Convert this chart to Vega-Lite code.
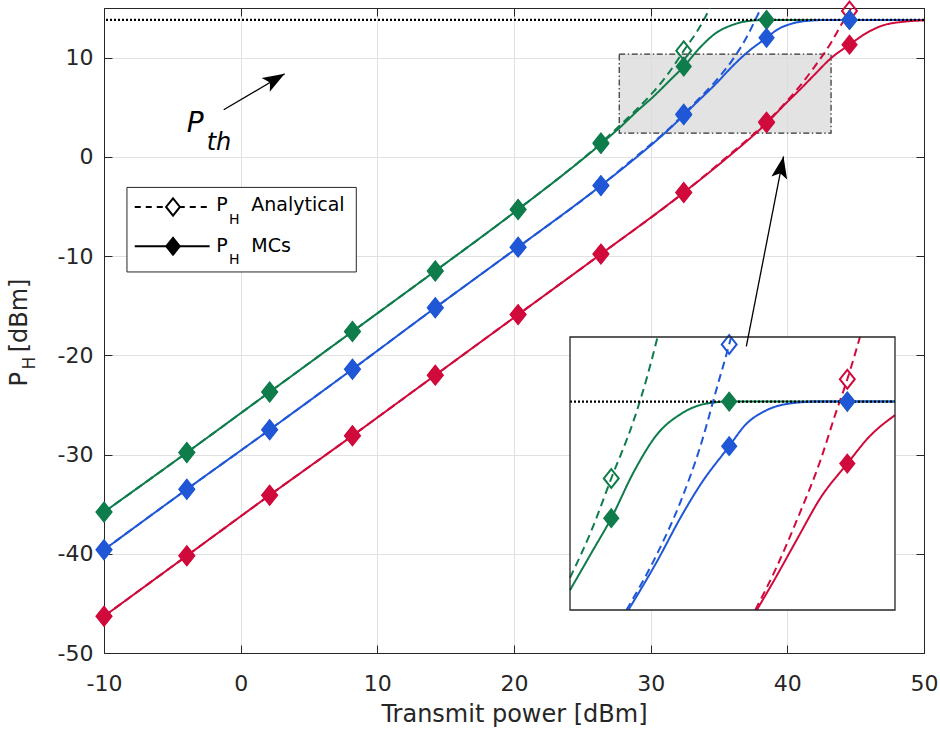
{
  "$schema": "https://vega.github.io/schema/vega-lite/v6.json",
  "width": 820,
  "height": 645,
  "autosize": {"type": "none"},
  "padding": {"left": 104, "top": 8, "right": 16, "bottom": 77},
  "background": "white",
  "config": {
    "font": "DejaVu Sans",
    "view": {"stroke": "#262626", "strokeWidth": 1},
    "axis": {
      "labelFont": "DejaVu Sans",
      "labelFontSize": 22,
      "labelColor": "#262626",
      "titleFont": "DejaVu Sans",
      "titleFontSize": 24,
      "titleFontWeight": "normal",
      "titleColor": "#262626",
      "domainColor": "#262626",
      "tickColor": "#262626",
      "gridColor": "#e1e1e1",
      "labelFlush": false,
      "labelOverlap": false
    }
  },
  "data": {"values": [{}]},
  "datasets": {
    "curves": [
      {"case": "Case 1", "method": "MCs", "x": -10, "y": -35.8},
      {"case": "Case 1", "method": "MCs", "x": -3.94, "y": -29.8},
      {"case": "Case 1", "method": "MCs", "x": 2.12, "y": -23.7},
      {"case": "Case 1", "method": "MCs", "x": 8.18, "y": -17.6},
      {"case": "Case 1", "method": "MCs", "x": 14.24, "y": -11.5},
      {"case": "Case 1", "method": "MCs", "x": 20.3, "y": -5.3},
      {"case": "Case 1", "method": "MCs", "x": 26.36, "y": 1.3},
      {"case": "Case 1", "method": "MCs", "x": 27.7, "y": 2.9},
      {"case": "Case 1", "method": "MCs", "x": 29, "y": 4.6},
      {"case": "Case 1", "method": "MCs", "x": 30.3, "y": 6.2},
      {"case": "Case 1", "method": "MCs", "x": 31.4, "y": 7.7},
      {"case": "Case 1", "method": "MCs", "x": 32.42, "y": 9.1},
      {"case": "Case 1", "method": "MCs", "x": 33.6, "y": 11.0},
      {"case": "Case 1", "method": "MCs", "x": 34.8, "y": 12.5},
      {"case": "Case 1", "method": "MCs", "x": 36, "y": 13.3},
      {"case": "Case 1", "method": "MCs", "x": 37.2, "y": 13.7},
      {"case": "Case 1", "method": "MCs", "x": 38.48, "y": 13.8},
      {"case": "Case 1", "method": "MCs", "x": 44.55, "y": 13.8},
      {"case": "Case 1", "method": "MCs", "x": 47, "y": 13.8},
      {"case": "Case 1", "method": "MCs", "x": 50, "y": 13.8},

      {"case": "Case 1", "method": "Analytical", "x": -10, "y": -35.8},
      {"case": "Case 1", "method": "Analytical", "x": -3.94, "y": -29.8},
      {"case": "Case 1", "method": "Analytical", "x": 2.12, "y": -23.7},
      {"case": "Case 1", "method": "Analytical", "x": 8.18, "y": -17.6},
      {"case": "Case 1", "method": "Analytical", "x": 14.24, "y": -11.5},
      {"case": "Case 1", "method": "Analytical", "x": 20.3, "y": -5.3},
      {"case": "Case 1", "method": "Analytical", "x": 26.36, "y": 1.4},
      {"case": "Case 1", "method": "Analytical", "x": 27.7, "y": 3.1},
      {"case": "Case 1", "method": "Analytical", "x": 28.7, "y": 4.4},
      {"case": "Case 1", "method": "Analytical", "x": 29.9, "y": 6.1},
      {"case": "Case 1", "method": "Analytical", "x": 30.3, "y": 6.7},
      {"case": "Case 1", "method": "Analytical", "x": 31.4, "y": 8.6},
      {"case": "Case 1", "method": "Analytical", "x": 32.42, "y": 10.7},
      {"case": "Case 1", "method": "Analytical", "x": 33.6, "y": 13.1},
      {"case": "Case 1", "method": "Analytical", "x": 34.3, "y": 14.9},
      {"case": "Case 1", "method": "Analytical", "x": 34.8, "y": 16.4},
      {"case": "Case 1", "method": "Analytical", "x": 35.5, "y": 18.4},

      {"case": "Case 2", "method": "MCs", "x": -10, "y": -39.6},
      {"case": "Case 2", "method": "MCs", "x": -3.94, "y": -33.5},
      {"case": "Case 2", "method": "MCs", "x": 2.12, "y": -27.5},
      {"case": "Case 2", "method": "MCs", "x": 8.18, "y": -21.4},
      {"case": "Case 2", "method": "MCs", "x": 14.24, "y": -15.2},
      {"case": "Case 2", "method": "MCs", "x": 20.3, "y": -9.1},
      {"case": "Case 2", "method": "MCs", "x": 26.36, "y": -2.9},
      {"case": "Case 2", "method": "MCs", "x": 29, "y": 0},
      {"case": "Case 2", "method": "MCs", "x": 30.3, "y": 1.5},
      {"case": "Case 2", "method": "MCs", "x": 31.4, "y": 2.85},
      {"case": "Case 2", "method": "MCs", "x": 32.42, "y": 4.2},
      {"case": "Case 2", "method": "MCs", "x": 33.3, "y": 5.4},
      {"case": "Case 2", "method": "MCs", "x": 34.8, "y": 7.4},
      {"case": "Case 2", "method": "MCs", "x": 36, "y": 9.15},
      {"case": "Case 2", "method": "MCs", "x": 37, "y": 10.45},
      {"case": "Case 2", "method": "MCs", "x": 38.48, "y": 12.0},
      {"case": "Case 2", "method": "MCs", "x": 39.3, "y": 12.85},
      {"case": "Case 2", "method": "MCs", "x": 40.4, "y": 13.45},
      {"case": "Case 2", "method": "MCs", "x": 41.6, "y": 13.72},
      {"case": "Case 2", "method": "MCs", "x": 43, "y": 13.8},
      {"case": "Case 2", "method": "MCs", "x": 47, "y": 13.8},
      {"case": "Case 2", "method": "MCs", "x": 50, "y": 13.8},

      {"case": "Case 2", "method": "Analytical", "x": -10, "y": -39.6},
      {"case": "Case 2", "method": "Analytical", "x": -3.94, "y": -33.5},
      {"case": "Case 2", "method": "Analytical", "x": 2.12, "y": -27.5},
      {"case": "Case 2", "method": "Analytical", "x": 8.18, "y": -21.4},
      {"case": "Case 2", "method": "Analytical", "x": 14.24, "y": -15.2},
      {"case": "Case 2", "method": "Analytical", "x": 20.3, "y": -9.1},
      {"case": "Case 2", "method": "Analytical", "x": 26.36, "y": -2.9},
      {"case": "Case 2", "method": "Analytical", "x": 29, "y": 0.1},
      {"case": "Case 2", "method": "Analytical", "x": 30.3, "y": 1.6},
      {"case": "Case 2", "method": "Analytical", "x": 31.4, "y": 2.9},
      {"case": "Case 2", "method": "Analytical", "x": 32.42, "y": 4.3},
      {"case": "Case 2", "method": "Analytical", "x": 33.2, "y": 5.4},
      {"case": "Case 2", "method": "Analytical", "x": 34.8, "y": 7.7},
      {"case": "Case 2", "method": "Analytical", "x": 36, "y": 9.8},
      {"case": "Case 2", "method": "Analytical", "x": 37, "y": 12.0},
      {"case": "Case 2", "method": "Analytical", "x": 37.9, "y": 14.5},
      {"case": "Case 2", "method": "Analytical", "x": 38.48, "y": 16.1},
      {"case": "Case 2", "method": "Analytical", "x": 38.58, "y": 16.4},
      {"case": "Case 2", "method": "Analytical", "x": 39.2, "y": 18.2},

      {"case": "Case 3", "method": "MCs", "x": -10, "y": -46.3},
      {"case": "Case 3", "method": "MCs", "x": -3.94, "y": -40.2},
      {"case": "Case 3", "method": "MCs", "x": 2.12, "y": -34.1},
      {"case": "Case 3", "method": "MCs", "x": 8.18, "y": -28.1},
      {"case": "Case 3", "method": "MCs", "x": 14.24, "y": -22.0},
      {"case": "Case 3", "method": "MCs", "x": 20.3, "y": -15.9},
      {"case": "Case 3", "method": "MCs", "x": 26.36, "y": -9.8},
      {"case": "Case 3", "method": "MCs", "x": 32.42, "y": -3.6},
      {"case": "Case 3", "method": "MCs", "x": 35.5, "y": -0.2},
      {"case": "Case 3", "method": "MCs", "x": 38.48, "y": 3.4},
      {"case": "Case 3", "method": "MCs", "x": 39.9, "y": 5.4},
      {"case": "Case 3", "method": "MCs", "x": 40.9, "y": 6.75},
      {"case": "Case 3", "method": "MCs", "x": 42, "y": 8.3},
      {"case": "Case 3", "method": "MCs", "x": 43.2, "y": 9.95},
      {"case": "Case 3", "method": "MCs", "x": 44.55, "y": 11.3},
      {"case": "Case 3", "method": "MCs", "x": 45.7, "y": 12.4},
      {"case": "Case 3", "method": "MCs", "x": 47, "y": 13.25},
      {"case": "Case 3", "method": "MCs", "x": 48.4, "y": 13.6},
      {"case": "Case 3", "method": "MCs", "x": 50, "y": 13.75},

      {"case": "Case 3", "method": "Analytical", "x": -10, "y": -46.3},
      {"case": "Case 3", "method": "Analytical", "x": -3.94, "y": -40.2},
      {"case": "Case 3", "method": "Analytical", "x": 2.12, "y": -34.1},
      {"case": "Case 3", "method": "Analytical", "x": 8.18, "y": -28.1},
      {"case": "Case 3", "method": "Analytical", "x": 14.24, "y": -22.0},
      {"case": "Case 3", "method": "Analytical", "x": 20.3, "y": -15.9},
      {"case": "Case 3", "method": "Analytical", "x": 26.36, "y": -9.8},
      {"case": "Case 3", "method": "Analytical", "x": 32.42, "y": -3.6},
      {"case": "Case 3", "method": "Analytical", "x": 35.5, "y": -0.1},
      {"case": "Case 3", "method": "Analytical", "x": 38.48, "y": 3.5},
      {"case": "Case 3", "method": "Analytical", "x": 39.82, "y": 5.4},
      {"case": "Case 3", "method": "Analytical", "x": 40.9, "y": 7.1},
      {"case": "Case 3", "method": "Analytical", "x": 42, "y": 9.1},
      {"case": "Case 3", "method": "Analytical", "x": 43.2, "y": 11.5},
      {"case": "Case 3", "method": "Analytical", "x": 43.94, "y": 13.3},
      {"case": "Case 3", "method": "Analytical", "x": 44.55, "y": 14.7},
      {"case": "Case 3", "method": "Analytical", "x": 45.2, "y": 16.4},
      {"case": "Case 3", "method": "Analytical", "x": 46, "y": 18.6}
    ],
    "points": [
      {"case": "Case 1", "method": "Analytical", "x": -10, "y": -35.8},
      {"case": "Case 1", "method": "Analytical", "x": -3.94, "y": -29.8},
      {"case": "Case 1", "method": "Analytical", "x": 2.12, "y": -23.7},
      {"case": "Case 1", "method": "Analytical", "x": 8.18, "y": -17.6},
      {"case": "Case 1", "method": "Analytical", "x": 14.24, "y": -11.5},
      {"case": "Case 1", "method": "Analytical", "x": 20.3, "y": -5.3},
      {"case": "Case 1", "method": "Analytical", "x": 26.36, "y": 1.4},
      {"case": "Case 1", "method": "Analytical", "x": 32.42, "y": 10.7},
      {"case": "Case 2", "method": "Analytical", "x": -10, "y": -39.6},
      {"case": "Case 2", "method": "Analytical", "x": -3.94, "y": -33.5},
      {"case": "Case 2", "method": "Analytical", "x": 2.12, "y": -27.5},
      {"case": "Case 2", "method": "Analytical", "x": 8.18, "y": -21.4},
      {"case": "Case 2", "method": "Analytical", "x": 14.24, "y": -15.2},
      {"case": "Case 2", "method": "Analytical", "x": 20.3, "y": -9.1},
      {"case": "Case 2", "method": "Analytical", "x": 26.36, "y": -2.9},
      {"case": "Case 2", "method": "Analytical", "x": 32.42, "y": 4.3},
      {"case": "Case 2", "method": "Analytical", "x": 38.48, "y": 16.1},
      {"case": "Case 3", "method": "Analytical", "x": -10, "y": -46.3},
      {"case": "Case 3", "method": "Analytical", "x": -3.94, "y": -40.2},
      {"case": "Case 3", "method": "Analytical", "x": 2.12, "y": -34.1},
      {"case": "Case 3", "method": "Analytical", "x": 8.18, "y": -28.1},
      {"case": "Case 3", "method": "Analytical", "x": 14.24, "y": -22.0},
      {"case": "Case 3", "method": "Analytical", "x": 20.3, "y": -15.9},
      {"case": "Case 3", "method": "Analytical", "x": 26.36, "y": -9.8},
      {"case": "Case 3", "method": "Analytical", "x": 32.42, "y": -3.6},
      {"case": "Case 3", "method": "Analytical", "x": 38.48, "y": 3.5},
      {"case": "Case 3", "method": "Analytical", "x": 44.55, "y": 14.7},

      {"case": "Case 1", "method": "MCs", "x": -10, "y": -35.8},
      {"case": "Case 1", "method": "MCs", "x": -3.94, "y": -29.8},
      {"case": "Case 1", "method": "MCs", "x": 2.12, "y": -23.7},
      {"case": "Case 1", "method": "MCs", "x": 8.18, "y": -17.6},
      {"case": "Case 1", "method": "MCs", "x": 14.24, "y": -11.5},
      {"case": "Case 1", "method": "MCs", "x": 20.3, "y": -5.3},
      {"case": "Case 1", "method": "MCs", "x": 26.36, "y": 1.3},
      {"case": "Case 1", "method": "MCs", "x": 32.42, "y": 9.1},
      {"case": "Case 1", "method": "MCs", "x": 38.48, "y": 13.8},
      {"case": "Case 1", "method": "MCs", "x": 44.55, "y": 13.8},
      {"case": "Case 2", "method": "MCs", "x": -10, "y": -39.6},
      {"case": "Case 2", "method": "MCs", "x": -3.94, "y": -33.5},
      {"case": "Case 2", "method": "MCs", "x": 2.12, "y": -27.5},
      {"case": "Case 2", "method": "MCs", "x": 8.18, "y": -21.4},
      {"case": "Case 2", "method": "MCs", "x": 14.24, "y": -15.2},
      {"case": "Case 2", "method": "MCs", "x": 20.3, "y": -9.1},
      {"case": "Case 2", "method": "MCs", "x": 26.36, "y": -2.9},
      {"case": "Case 2", "method": "MCs", "x": 32.42, "y": 4.2},
      {"case": "Case 2", "method": "MCs", "x": 38.48, "y": 12.0},
      {"case": "Case 2", "method": "MCs", "x": 44.55, "y": 13.8},
      {"case": "Case 3", "method": "MCs", "x": -10, "y": -46.3},
      {"case": "Case 3", "method": "MCs", "x": -3.94, "y": -40.2},
      {"case": "Case 3", "method": "MCs", "x": 2.12, "y": -34.1},
      {"case": "Case 3", "method": "MCs", "x": 8.18, "y": -28.1},
      {"case": "Case 3", "method": "MCs", "x": 14.24, "y": -22.0},
      {"case": "Case 3", "method": "MCs", "x": 20.3, "y": -15.9},
      {"case": "Case 3", "method": "MCs", "x": 26.36, "y": -9.8},
      {"case": "Case 3", "method": "MCs", "x": 32.42, "y": -3.6},
      {"case": "Case 3", "method": "MCs", "x": 38.48, "y": 3.4},
      {"case": "Case 3", "method": "MCs", "x": 44.55, "y": 11.3}
    ]
  },
  "resolve": {"scale": {"x": "independent", "y": "independent"}},
  "layer": [
    {
      "layer": [
        {
          "mark": {"type": "rect", "fill": "#dcdcdc", "fillOpacity": 0.8, "stroke": "#303030", "strokeWidth": 1.2, "strokeDash": [6, 2.5, 1.5, 2.5]},
          "encoding": {
            "x": {"datum": 27.7, "type": "quantitative"},
            "x2": {"datum": 43.2},
            "y": {"datum": 2.4, "type": "quantitative"},
            "y2": {"datum": 10.35}
          }
        },
        {
          "data": {"name": "curves"},
          "mark": {"type": "line", "clip": true, "strokeWidth": 2, "interpolate": "monotone"},
          "encoding": {
            "x": {
              "field": "x", "type": "quantitative",
              "scale": {"domain": [-10, 50], "nice": false, "zero": false},
              "axis": {"values": [-10, 0, 10, 20, 30, 40, 50], "grid": true, "tickSize": -8, "labelPadding": 28, "labelExpr": "'' + datum.value", "title": "Transmit power [dBm]", "titlePadding": 8}
            },
            "y": {
              "field": "y", "type": "quantitative",
              "scale": {"domain": [-50, 15], "nice": false, "zero": false},
              "axis": {"values": [-50, -40, -30, -20, -10, 0, 10], "grid": true, "tickSize": -8, "labelPadding": 19, "labelExpr": "'' + datum.value", "title": null}
            },
            "color": {"field": "case", "type": "nominal", "scale": {"domain": ["Case 1", "Case 2", "Case 3"], "range": ["#0E7C4B", "#1F57D6", "#D10A3C"]}, "legend": null},
            "strokeDash": {"field": "method", "type": "nominal", "scale": {"domain": ["Analytical", "MCs"], "range": [[8, 5], [1, 0]]}, "legend": null}
          }
        },
        {
          "mark": {"type": "rule", "color": "black", "strokeWidth": 2.2, "strokeDash": [2, 2]},
          "encoding": {"y": {"datum": 13.8, "type": "quantitative"}}
        },
        {
          "data": {"name": "points"},
          "transform": [{"filter": "datum.method == 'Analytical' && datum.y <= 15"}],
          "mark": {"type": "point", "shape": "M0,-1L0.8,0L0,1L-0.8,0Z", "size": 350, "filled": false, "strokeWidth": 2, "opacity": 1},
          "encoding": {
            "x": {"field": "x", "type": "quantitative"},
            "y": {"field": "y", "type": "quantitative"},
            "color": {"field": "case", "type": "nominal"}
          }
        },
        {
          "data": {"name": "points"},
          "transform": [{"filter": "datum.method == 'MCs' && datum.y <= 15"}],
          "mark": {"type": "point", "shape": "M0,-1L0.8,0L0,1L-0.8,0Z", "size": 430, "filled": true, "opacity": 1},
          "encoding": {
            "x": {"field": "x", "type": "quantitative"},
            "y": {"field": "y", "type": "quantitative"},
            "color": {"field": "case", "type": "nominal"}
          }
        },
        {
          "mark": {"type": "rule", "color": "black", "strokeWidth": 1.3},
          "encoding": {
            "x": {"datum": -1.24, "type": "quantitative"},
            "x2": {"datum": 3.22},
            "y": {"datum": 4.74, "type": "quantitative"},
            "y2": {"datum": 8.37}
          }
        },
        {
          "mark": {"type": "point", "shape": "M0,0L-0.8,2.2L0,1.7L0.8,2.2Z", "size": 400, "filled": true, "color": "black", "opacity": 1, "angle": 59.5},
          "encoding": {
            "x": {"datum": 3.22, "type": "quantitative"},
            "y": {"datum": 8.37, "type": "quantitative"}
          }
        },
        {
          "mark": {"type": "text", "text": "P", "fontSize": 28, "fontStyle": "italic", "align": "left", "baseline": "alphabetic", "color": "black"},
          "encoding": {"x": {"datum": -3.95, "type": "quantitative"}, "y": {"datum": 2.53, "type": "quantitative"}}
        },
        {
          "mark": {"type": "text", "text": "th", "fontSize": 24, "fontStyle": "italic", "align": "left", "baseline": "alphabetic", "color": "black"},
          "encoding": {"x": {"datum": -2.49, "type": "quantitative"}, "y": {"datum": 0.71, "type": "quantitative"}}
        },
        {
          "mark": {"type": "rect", "fill": "white", "stroke": "#262626", "strokeWidth": 1},
          "encoding": {
            "x": {"datum": -8.32, "type": "quantitative"},
            "x2": {"datum": 8.46},
            "y": {"datum": -3.08, "type": "quantitative"},
            "y2": {"datum": -11.6}
          }
        },
        {
          "mark": {"type": "rule", "color": "black", "strokeWidth": 2, "strokeDash": [6, 5]},
          "encoding": {
            "x": {"datum": -7.75, "type": "quantitative"},
            "x2": {"datum": -2.27},
            "y": {"datum": -5.05, "type": "quantitative"}
          }
        },
        {
          "mark": {"type": "rule", "color": "black", "strokeWidth": 2},
          "encoding": {
            "x": {"datum": -7.75, "type": "quantitative"},
            "x2": {"datum": -2.27},
            "y": {"datum": -9.02, "type": "quantitative"}
          }
        },
        {
          "mark": {"type": "point", "shape": "M0,-1L0.8,0L0,1L-0.8,0Z", "size": 300, "filled": true, "fill": "white", "stroke": "black", "strokeWidth": 2, "opacity": 1},
          "encoding": {"x": {"datum": -4.95, "type": "quantitative"}, "y": {"datum": -5.05, "type": "quantitative"}}
        },
        {
          "mark": {"type": "point", "shape": "M0,-1L0.8,0L0,1L-0.8,0Z", "size": 400, "filled": true, "color": "black", "opacity": 1},
          "encoding": {"x": {"datum": -4.95, "type": "quantitative"}, "y": {"datum": -9.02, "type": "quantitative"}}
        },
        {
          "mark": {"type": "text", "text": "P", "fontSize": 19, "align": "left", "baseline": "alphabetic", "color": "black"},
          "encoding": {"x": {"datum": -1.78, "type": "quantitative"}, "y": {"datum": -5.5, "type": "quantitative"}}
        },
        {
          "mark": {"type": "text", "text": "H", "fontSize": 14, "align": "left", "baseline": "alphabetic", "color": "black"},
          "encoding": {"x": {"datum": -0.86, "type": "quantitative"}, "y": {"datum": -6.77, "type": "quantitative"}}
        },
        {
          "mark": {"type": "text", "text": "Analytical", "fontSize": 19, "align": "left", "baseline": "alphabetic", "color": "black"},
          "encoding": {"x": {"datum": 0.78, "type": "quantitative"}, "y": {"datum": -5.5, "type": "quantitative"}}
        },
        {
          "mark": {"type": "text", "text": "P", "fontSize": 19, "align": "left", "baseline": "alphabetic", "color": "black"},
          "encoding": {"x": {"datum": -1.78, "type": "quantitative"}, "y": {"datum": -9.59, "type": "quantitative"}}
        },
        {
          "mark": {"type": "text", "text": "H", "fontSize": 14, "align": "left", "baseline": "alphabetic", "color": "black"},
          "encoding": {"x": {"datum": -0.86, "type": "quantitative"}, "y": {"datum": -10.8, "type": "quantitative"}}
        },
        {
          "mark": {"type": "text", "text": "MCs", "fontSize": 19, "align": "left", "baseline": "alphabetic", "color": "black"},
          "encoding": {"x": {"datum": 0.78, "type": "quantitative"}, "y": {"datum": -9.59, "type": "quantitative"}}
        },
        {
          "mark": {"type": "text", "text": "P", "fontSize": 24, "angle": 270, "align": "left", "baseline": "alphabetic", "color": "#262626"},
          "encoding": {"x": {"datum": -15.65, "type": "quantitative"}, "y": {"datum": -23.15, "type": "quantitative"}}
        },
        {
          "mark": {"type": "text", "text": "H", "fontSize": 17, "angle": 270, "align": "left", "baseline": "alphabetic", "color": "#262626"},
          "encoding": {"x": {"datum": -15.07, "type": "quantitative"}, "y": {"datum": -21.43, "type": "quantitative"}}
        },
        {
          "mark": {"type": "text", "text": "[dBm]", "fontSize": 24, "angle": 270, "align": "left", "baseline": "alphabetic", "color": "#262626"},
          "encoding": {"x": {"datum": -15.65, "type": "quantitative"}, "y": {"datum": -19.7, "type": "quantitative"}}
        }
      ]
    },
    {
      "layer": [
        {
          "mark": {"type": "rect", "fill": "white"},
          "encoding": {
            "x": {"datum": 30.3, "type": "quantitative", "scale": {"domain": [30.3, 47], "range": [466, 791], "nice": false, "zero": false}, "axis": null},
            "x2": {"datum": 47},
            "y": {"datum": 5.4, "type": "quantitative", "scale": {"domain": [5.4, 16.4], "range": [602, 329], "nice": false, "zero": false}, "axis": null},
            "y2": {"datum": 16.4}
          }
        },
        {
          "data": {"name": "curves"},
          "transform": [{"filter": "datum.x >= 30.29 && datum.x <= 47.01 && datum.y >= 5.39 && datum.y <= 16.41"}],
          "mark": {"type": "line", "strokeWidth": 2, "interpolate": "monotone"},
          "encoding": {
            "x": {"field": "x", "type": "quantitative"},
            "y": {"field": "y", "type": "quantitative"},
            "color": {"field": "case", "type": "nominal"},
            "strokeDash": {"field": "method", "type": "nominal"}
          }
        },
        {
          "mark": {"type": "rule", "color": "black", "strokeWidth": 2.2, "strokeDash": [2, 2]},
          "encoding": {
            "x": {"datum": 30.3, "type": "quantitative"},
            "x2": {"datum": 47},
            "y": {"datum": 13.8, "type": "quantitative"}
          }
        },
        {
          "data": {"name": "points"},
          "transform": [{"filter": "datum.method == 'Analytical' && datum.x >= 30.29 && datum.x <= 47.01 && datum.y >= 5.39 && datum.y <= 16.41"}],
          "mark": {"type": "point", "shape": "M0,-1L0.8,0L0,1L-0.8,0Z", "size": 350, "filled": false, "strokeWidth": 2, "opacity": 1},
          "encoding": {
            "x": {"field": "x", "type": "quantitative"},
            "y": {"field": "y", "type": "quantitative"},
            "color": {"field": "case", "type": "nominal"}
          }
        },
        {
          "data": {"name": "points"},
          "transform": [{"filter": "datum.method == 'MCs' && datum.x >= 30.29 && datum.x <= 47.01 && datum.y >= 5.39 && datum.y <= 16.41"}],
          "mark": {"type": "point", "shape": "M0,-1L0.8,0L0,1L-0.8,0Z", "size": 430, "filled": true, "opacity": 1},
          "encoding": {
            "x": {"field": "x", "type": "quantitative"},
            "y": {"field": "y", "type": "quantitative"},
            "color": {"field": "case", "type": "nominal"}
          }
        },
        {
          "mark": {"type": "rect", "fill": null, "fillOpacity": 0, "stroke": "#262626", "strokeWidth": 1.3},
          "encoding": {
            "x": {"datum": 30.3, "type": "quantitative"},
            "x2": {"datum": 47},
            "y": {"datum": 5.4, "type": "quantitative"},
            "y2": {"datum": 16.4}
          }
        }
      ]
    },
    {
      "layer": [
        {
          "mark": {"type": "rule", "color": "black", "strokeWidth": 1.3},
          "encoding": {
            "x": {"datum": 37.0, "type": "quantitative", "scale": {"domain": [-10, 50], "nice": false, "zero": false},
                  "axis": {"orient": "top", "values": [-10, 0, 10, 20, 30, 40, 50], "labels": false, "tickSize": -8, "grid": false, "title": null}},
            "x2": {"datum": 39.72},
            "y": {"datum": -19.1, "type": "quantitative", "scale": {"domain": [-50, 15], "nice": false, "zero": false},
                  "axis": {"orient": "right", "values": [-50, -40, -30, -20, -10, 0, 10], "labels": false, "tickSize": -8, "grid": false, "title": null}},
            "y2": {"datum": 0.04}
          }
        },
        {
          "mark": {"type": "point", "shape": "M0,0L-0.8,2.2L0,1.7L0.8,2.2Z", "size": 400, "filled": true, "color": "black", "opacity": 1, "angle": 11.1},
          "encoding": {
            "x": {"datum": 39.72, "type": "quantitative"},
            "y": {"datum": 0.04, "type": "quantitative"}
          }
        }
      ]
    }
  ]
}
